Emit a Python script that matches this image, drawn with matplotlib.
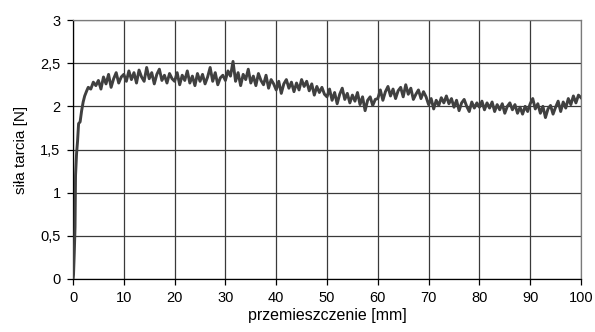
import matplotlib
matplotlib.use("Agg")
import matplotlib.pyplot as plt
import numpy as np

plt.rcParams['font.family'] = ['Liberation Sans', 'DejaVu Sans']

# Initial rise
rise_x = [0, 0.1, 0.25, 0.4, 0.5, 0.7, 0.9, 1.1, 1.4, 1.7, 2.0, 2.3, 2.7, 3.0, 3.5, 4.0, 4.5]
rise_y = [0, 0.05, 0.3, 0.6, 1.2, 1.45, 1.6, 1.8, 1.82, 1.95, 2.05, 2.12, 2.18, 2.22, 2.2, 2.28, 2.24]

# Steady part, sampled every 0.5 mm from 5 to 100 mm
steady_start = 5.0
steady_step = 0.5
steady_y = [
    2.30, 2.20, 2.34, 2.26, 2.37, 2.22, 2.32, 2.39, 2.27, 2.34,
    2.37, 2.29, 2.41, 2.31, 2.39, 2.27, 2.42, 2.34, 2.29, 2.45, 2.32, 2.39, 2.26, 2.37, 2.43, 2.30, 2.36, 2.27, 2.38, 2.32,
    2.29, 2.39, 2.25, 2.36, 2.30, 2.41, 2.27, 2.35, 2.24, 2.38, 2.29, 2.37, 2.26, 2.34, 2.45, 2.29, 2.39, 2.25, 2.33, 2.36,
    2.30, 2.41, 2.35, 2.52, 2.29, 2.39, 2.24, 2.37, 2.31, 2.43, 2.27, 2.35, 2.24, 2.38, 2.30, 2.25, 2.36, 2.21, 2.31, 2.26,
    2.19, 2.29, 2.15, 2.26, 2.31, 2.21, 2.28, 2.17, 2.27, 2.19, 2.31, 2.23, 2.29, 2.18, 2.26, 2.13, 2.23, 2.16, 2.22, 2.14,
    2.11, 2.20, 2.07, 2.16, 2.03, 2.14, 2.21, 2.08, 2.15, 2.04, 2.13, 2.06, 2.16, 2.02, 2.11, 1.95, 2.07, 2.11, 2.01, 2.08,
    2.09, 2.19, 2.07, 2.17, 2.23, 2.12, 2.20, 2.09, 2.18, 2.22, 2.11, 2.25, 2.14, 2.21, 2.08, 2.14, 2.19, 2.09, 2.17, 2.11,
    2.02, 2.09, 1.97, 2.07, 2.01, 2.10, 2.04, 2.12, 2.03, 2.09, 1.99, 2.07, 1.95, 2.04, 2.08, 2.00, 1.94, 2.05, 1.98, 2.04,
    1.99, 2.06, 1.96, 2.04, 1.98, 2.05, 1.94, 2.02, 1.96, 2.03, 1.92, 2.00, 2.04, 1.96, 2.02, 1.92, 1.99, 1.91, 2.00, 1.94,
    2.03, 2.09, 1.97, 2.03, 1.92, 2.00, 1.87, 1.97, 2.01, 1.91, 1.99, 2.06, 1.94, 2.05, 1.98, 2.09, 2.02, 2.12, 2.04, 2.13, 2.10,
]

x_ticks = [0, 10, 20, 30, 40, 50, 60, 70, 80, 90, 100]
y_ticks = [0, 0.5, 1, 1.5, 2, 2.5, 3]
y_tick_labels = ["0", "0,5", "1", "1,5", "2", "2,5", "3"]

steady_x = [steady_start + i * steady_step for i in range(len(steady_y))]
xs = rise_x + steady_x
ys = rise_y + steady_y

fig = plt.figure(figsize=(5.95, 3.32), dpi=100)
ax = fig.add_axes([73/595, 1 - 279/332, (581-73)/595, (279-20)/332])

ax.plot(xs, ys, color='#404040', lw=2.1, zorder=3)

ax.set_xlim(0, 100)
ax.set_ylim(0, 3)
ax.set_xticks(x_ticks)
ax.set_yticks(y_ticks)
ax.set_yticklabels(y_tick_labels)
ax.grid(True, color='#3a3a3a', lw=0.9)
ax.set_axisbelow(True)
for s in ['top', 'right']:
    ax.spines[s].set_color('#7a7a7a')
    ax.spines[s].set_linewidth(0.9)
for s in ['left', 'bottom']:
    ax.spines[s].set_color('black')
    ax.spines[s].set_linewidth(0.9)
ax.tick_params(direction='out', length=4, width=0.9, labelsize=10.5, pad=5, colors='black')
ax.set_xlabel('przemieszczenie [mm]', fontsize=11.5, labelpad=2)
ax.set_ylabel('siła tarcia [N]', fontsize=11, labelpad=9)

fig.savefig('out.png', dpi=100)
